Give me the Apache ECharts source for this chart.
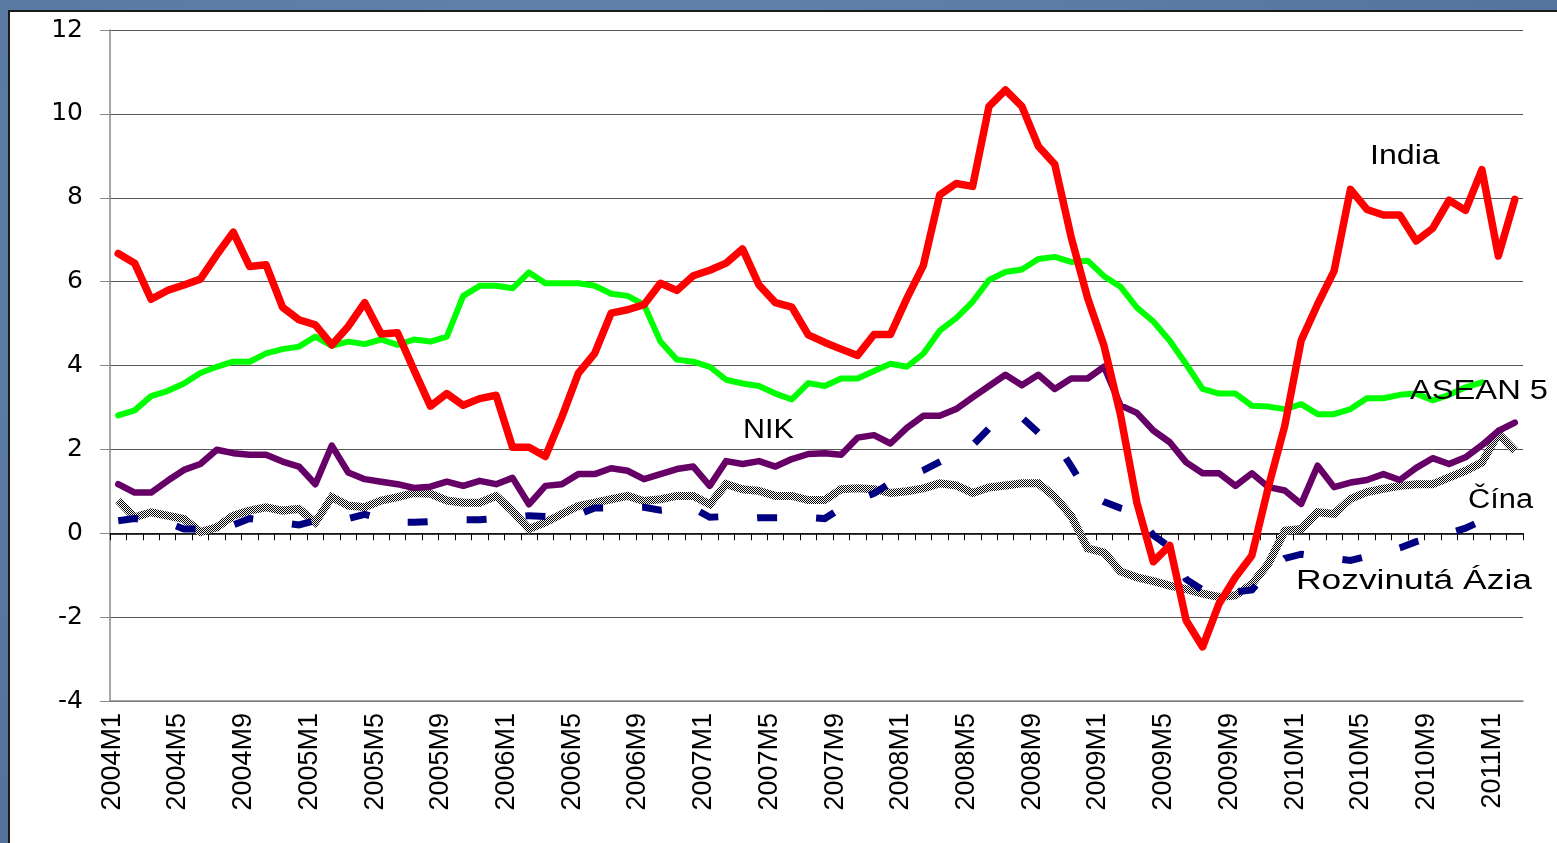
<!DOCTYPE html>
<html>
<head>
<meta charset="utf-8">
<script src="https://cdn.jsdelivr.net/npm/echarts@6/dist/echarts.min.js"></script>
<style>
  html, body { margin: 0; padding: 0; }
  body { width: 1557px; height: 843px; overflow: hidden; position: relative;
         background: radial-gradient(ellipse at 40% 30%, #6688b0 0%, #5878a1 60%, #4f6f98 100%); }
  #panel { position: absolute; left: 8px; top: 10px; right: 0; bottom: 0;
           background: #fff; border-left: 2px solid #1a1a1a; border-top: 2px solid #1a1a1a; }
  #chart { position: absolute; left: 0; top: 0; width: 1557px; height: 843px; }
</style>
</head>
<body>
<div id="panel"></div>
<div id="chart"></div>
<script>
// months 2004M1 .. 2011M2
const months = []
for (let y = 2004; y <= 2011; y++) {
  for (let m = 1; m <= 12; m++) {
    if (months.length < 86) months.push(y + 'M' + m)
  }
}

const india = [6.67, 6.44, 5.58, 5.79, 5.92, 6.06, 6.64, 7.18, 6.36, 6.40, 5.39, 5.09, 4.97, 4.49, 4.93, 5.50, 4.75, 4.78, 3.89, 3.03,
  3.33, 3.05, 3.21, 3.29, 2.05, 2.05, 1.83, 2.77, 3.81, 4.29, 5.25, 5.33, 5.45, 5.96, 5.79, 6.14, 6.27, 6.44, 6.78, 5.92,
  5.50, 5.39, 4.73, 4.55, 4.39, 4.24, 4.74, 4.74, 5.60, 6.38, 8.07, 8.34, 8.27, 10.18, 10.57, 10.18, 9.23, 8.80, 7.06, 5.61,
  4.47, 2.83, 0.73, -0.68, -0.29, -2.08, -2.71, -1.68, -1.05, -0.53, 1.10, 2.56, 4.60, 5.46, 6.25, 8.20, 7.72, 7.59, 7.59, 6.97,
  7.27, 7.94, 7.70, 8.67, 6.61, 7.96]

const asean5 = [2.81, 2.93, 3.27, 3.39, 3.57, 3.82, 3.97, 4.09, 4.09, 4.29, 4.39, 4.45, 4.69, 4.47, 4.57, 4.51, 4.62, 4.49, 4.62, 4.57,
  4.69, 5.66, 5.90, 5.90, 5.84, 6.22, 5.96, 5.96, 5.96, 5.90, 5.71, 5.66, 5.45, 4.57, 4.14, 4.09, 3.97, 3.66, 3.57, 3.51,
  3.33, 3.19, 3.58, 3.51, 3.69, 3.69, 3.87, 4.04, 3.97, 4.28, 4.83, 5.13, 5.52, 6.04, 6.23, 6.29, 6.54, 6.59, 6.47, 6.50,
  6.13, 5.88, 5.38, 5.05, 4.59, 4.03, 3.44, 3.33, 3.33, 3.04, 3.02, 2.96, 3.08, 2.84, 2.84, 2.96, 3.22, 3.22, 3.30, 3.33,
  3.17, 3.30, 3.48, 3.60, null, null]

const nik = [1.17, 0.97, 0.97, 1.25, 1.51, 1.65, 1.99, 1.91, 1.87, 1.87, 1.71, 1.59, 1.17, 2.09, 1.45, 1.29, 1.23, 1.17, 1.08, 1.11,
  1.23, 1.13, 1.25, 1.17, 1.32, 0.69, 1.13, 1.17, 1.41, 1.41, 1.55, 1.49, 1.29, 1.41, 1.53, 1.59, 1.13, 1.72, 1.65, 1.72,
  1.59, 1.77, 1.89, 1.91, 1.87, 2.28, 2.34, 2.14, 2.51, 2.80, 2.80, 2.96, 3.24, 3.51, 3.78, 3.53, 3.78, 3.44, 3.69, 3.69,
  3.97, 3.05, 2.87, 2.45, 2.17, 1.69, 1.43, 1.43, 1.13, 1.43, 1.10, 1.02, 0.70, 1.61, 1.10, 1.21, 1.27, 1.41, 1.27, 1.56,
  1.79, 1.65, 1.81, 2.10, 2.44, 2.64]

const cina = [0.30, 0.35, 0.30, 0.25, 0.10, 0.10, 0.15, 0.20, 0.35, 0.30, 0.25, 0.20, 0.30, 0.30, 0.35, 0.45, 0.35, 0.26, 0.26, 0.28,
  0.30, 0.32, 0.32, 0.35, 0.38, 0.42, 0.40, 0.40, 0.45, 0.60, 0.60, 0.62, 0.62, 0.55, 0.60, 0.60, 0.38, 0.40, 0.35, 0.37,
  0.37, 0.37, 0.38, 0.35, 0.60, 0.80, 0.95, 1.20, 1.35, 1.50, 1.70, 1.90, 2.10, 2.50, 2.76, 2.76, 2.40, 2.20, 1.60, 0.95,
  0.75, 0.60, 0.50, -0.05, -0.33, -1.10, -1.35, -1.50, -1.40, -1.35, -0.90, -0.60, -0.50, -0.55, -0.60, -0.65, -0.55, -0.45, -0.35, -0.20,
  -0.10, 0.00, 0.12, 0.30, null, null]

const rozvAzia = [0.78, 0.38, 0.50, 0.42, 0.34, 0.03, 0.14, 0.42, 0.54, 0.62, 0.54, 0.58, 0.26, 0.86, 0.66, 0.62, 0.78, 0.86, 0.96, 0.94,
  0.78, 0.73, 0.73, 0.89, 0.53, 0.10, 0.26, 0.46, 0.65, 0.73, 0.81, 0.89, 0.77, 0.81, 0.89, 0.89, 0.69, 1.17, 1.05, 1.01,
  0.89, 0.89, 0.79, 0.79, 1.05, 1.07, 1.05, 0.96, 1.00, 1.07, 1.19, 1.14, 0.96, 1.09, 1.14, 1.19, 1.19, 0.87, 0.41, -0.36,
  -0.46, -0.91, -1.05, -1.14, -1.25, -1.33, -1.44, -1.52, -1.48, -1.21, -0.73, 0.06, 0.10, 0.50, 0.46, 0.82, 0.98, 1.06, 1.13, 1.17,
  1.17, 1.33, 1.49, 1.69, 2.37, 1.97]

// dithered black/white fill for the "Rozvinutá Ázia" line
const pat = document.createElement('canvas')
pat.width = 2
pat.height = 2
const pctx = pat.getContext('2d')
pctx.fillStyle = '#fff'
pctx.fillRect(0, 0, 2, 2)
pctx.fillStyle = '#000'
pctx.fillRect(0, 0, 1, 1)
pctx.fillRect(1, 1, 1, 1)

const chart = echarts.init(document.getElementById('chart'))

const labelFont = '27px "Liberation Sans", Arial, sans-serif'
function seriesLabel (text, x, y, sx) {
  return {
    type: 'text',
    x: x,
    y: y,
    scaleX: sx,
    z: 100,
    style: {text: text, font: labelFont, fill: '#000', align: 'left', verticalAlign: 'middle'}
  }
}

const option = {
  animation: false,
  grid: {left: 110, right: 34, top: 30, bottom: 142},
  xAxis: [
    { // axis line through zero with the monthly ticks
      type: 'category',
      data: months,
      boundaryGap: true,
      axisLine: {onZero: true, lineStyle: {color: '#000', width: 1.5}},
      axisTick: {show: true, interval: 0, length: 7, lineStyle: {color: '#000', width: 1}},
      axisLabel: {show: false},
      splitLine: {show: false}
    },
    { // labels at the bottom
      type: 'category',
      data: months,
      position: 'bottom',
      boundaryGap: true,
      axisLine: {onZero: false, lineStyle: {color: '#888', width: 1.5}},
      axisTick: {show: false},
      axisLabel: {
        interval: 3,
        rotate: 90,
        margin: 12,
        color: '#000',
        fontFamily: '"Liberation Sans", Arial, sans-serif',
        fontSize: 27,
        verticalAlign: 'bottom',
        lineHeight: 12
      },
      splitLine: {show: false}
    }
  ],
  yAxis: {
    type: 'value',
    min: -4,
    max: 12,
    interval: 2,
    axisLine: {show: true, onZero: false, lineStyle: {color: '#888', width: 1.5}},
    axisTick: {show: true, length: 10, lineStyle: {color: '#888'}},
    axisLabel: {
      margin: 27,
      color: '#000',
      fontFamily: '"DejaVu Sans", sans-serif',
      fontSize: 25
    },
    splitLine: {show: true, lineStyle: {color: '#555', width: 1.2}}
  },
  series: [
    {
      name: 'Rozvinutá Ázia',
      type: 'line',
      data: rozvAzia,
      showSymbol: false,
      lineStyle: {width: 8, color: {image: pat, repeat: 'repeat'}, join: 'miter'},
      z: 2
    },
    {
      name: 'Čína',
      type: 'line',
      data: cina,
      showSymbol: false,
      lineStyle: {width: 7, color: '#000080', type: [20, 39], cap: 'butt', join: 'miter'},
      z: 3
    },
    {
      name: 'NIK',
      type: 'line',
      data: nik,
      showSymbol: false,
      lineStyle: {width: 6.5, color: '#660066', cap: 'round', join: 'round'},
      z: 4
    },
    {
      name: 'ASEAN 5',
      type: 'line',
      data: asean5,
      showSymbol: false,
      lineStyle: {width: 6, color: '#00ff00', cap: 'round', join: 'round'},
      z: 5
    },
    {
      name: 'India',
      type: 'line',
      data: india,
      showSymbol: false,
      lineStyle: {width: 7.5, color: '#ff0000', cap: 'round', join: 'round'},
      z: 6
    }
  ],
  graphic: [
    seriesLabel('India', 1370, 157, 1.19),
    seriesLabel('NIK', 743, 431, 1.13),
    seriesLabel('ASEAN 5', 1410, 392, 1.21),
    seriesLabel('Čína', 1468, 501, 1.14),
    seriesLabel('Rozvinutá Ázia', 1296, 582, 1.31)
  ]
}

chart.setOption(option)
</script>
</body>
</html>
